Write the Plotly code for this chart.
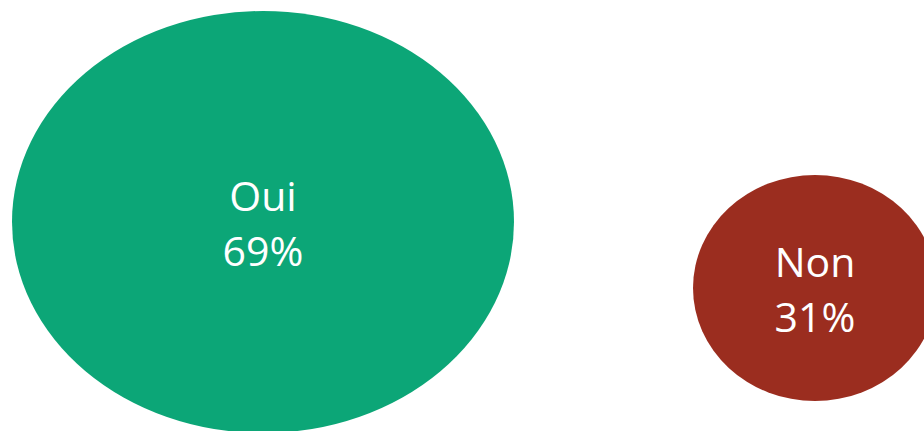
import plotly.graph_objects as go

# Data
categories = ["Oui", "Non"]
values = [69, 31]

# Layout/style (positions and sizes of bubbles, in axis units = pixels)
centers_x = [263, 815]
centers_y = [222, 288]
radii_x = [251, 122]
radii_y = [211, 113]
colors = ["#0CA677", "#9B2D1F"]
label_dy = -21
value_dy = 34

fig = go.Figure()

shapes = []
for cx, cy, rx, ry, col in zip(centers_x, centers_y, radii_x, radii_y, colors):
    shapes.append(dict(type="circle", xref="x", yref="y",
                       x0=cx - rx, x1=cx + rx, y0=cy - ry, y1=cy + ry,
                       fillcolor=col, line=dict(width=0), layer="below"))

font = dict(family="Open Sans", size=41, color="white")
fig.add_trace(go.Scatter(
    x=centers_x, y=[c + label_dy for c in centers_y], mode="text",
    text=categories, textposition="middle center", textfont=font,
    hoverinfo="skip", showlegend=False,
))
fig.add_trace(go.Scatter(
    x=centers_x, y=[c + value_dy for c in centers_y], mode="text",
    text=[f"{v}%" for v in values], textposition="middle center", textfont=font,
    hoverinfo="skip", showlegend=False,
))

fig.update_layout(
    width=924, height=431,
    margin=dict(l=0, r=0, t=0, b=0),
    paper_bgcolor="white", plot_bgcolor="white",
    shapes=shapes,
    xaxis=dict(range=[0, 924], visible=False, fixedrange=True),
    yaxis=dict(range=[431, 0], visible=False, fixedrange=True),
    showlegend=False,
)

fig.write_html("out.html", config={"displayModeBar": False},
               post_script="document.body.style.margin='0';document.body.style.overflow='hidden';")
